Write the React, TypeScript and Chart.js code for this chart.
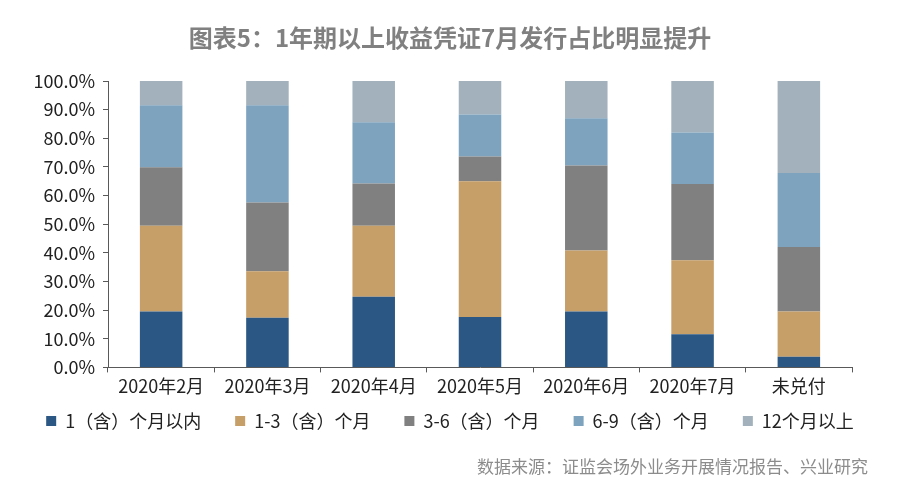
import React, { useEffect, useRef } from "react";
import { Chart, registerables } from "chart.js";

Chart.register(...registerables);

const TITLE = "图表5：1年期以上收益凭证7月发行占比明显提升";
const SOURCE = "数据来源：证监会场外业务开展情况报告、兴业研究";

const categories = ["2020年2月", "2020年3月", "2020年4月", "2020年5月", "2020年6月", "2020年7月", "未兑付"];

const seriesNames = ["1（含）个月以内", "1-3（含）个月", "3-6（含）个月", "6-9（含）个月", "12个月以上"];

const within1 = [19.5, 17.3, 24.7, 17.6, 19.5, 11.6, 3.7];
const m1to3 = [30.0, 16.3, 24.8, 47.4, 21.3, 25.8, 15.8];
const m3to6 = [20.4, 24.0, 14.7, 8.6, 29.7, 26.6, 22.5];
const m6to9 = [21.6, 33.9, 21.4, 14.7, 16.5, 18.0, 25.9];
const over12 = [8.5, 8.5, 14.4, 11.7, 13.0, 18.0, 32.1];

const yTicks = [0, 10, 20, 30, 40, 50, 60, 70, 80, 90, 100];

const colors = ["#2A5783", "#C59E68", "#808080", "#7EA3BE", "#A2B1BB"];

const FONT = '"Noto Sans CJK SC", "Noto Sans", sans-serif';
const LEGEND_PAD = 34;
const LEGEND_FONT = 18;
const LEGEND_CENTER_Y = 421;

export default function App() {
  const ref = useRef<HTMLCanvasElement | null>(null);

  useEffect(() => {
    if (!ref.current) return;
    const seriesValues = [within1, m1to3, m3to6, m6to9, over12];
    const sourcePlugin = {
      id: "sourceNote",
      afterDraw(chart: any) {
        const ctx = chart.ctx;
        ctx.save();
        ctx.font = `17px ${FONT}`;
        ctx.fillStyle = "#8c8c8c";
        ctx.textAlign = "right";
        ctx.textBaseline = "middle";
        ctx.fillText(SOURCE, 868, 467);
        ctx.restore();
      },
    };
    const legendShift = {
      id: "legendShift",
      afterLayout(chart: any) {
        const lg = chart.legend;
        if (!lg) return;
        const d = lg.top + LEGEND_PAD + LEGEND_FONT / 2 - LEGEND_CENTER_Y;
        lg.top -= d;
        lg.bottom -= d;
      },
    };
    const chart = new Chart(ref.current, {
      type: "bar",
      data: {
        labels: categories,
        datasets: seriesNames.map((name, i) => ({
          label: name,
          data: seriesValues[i],
          backgroundColor: colors[i],
          borderWidth: 0,
          barPercentage: 0.4,
          categoryPercentage: 1,
        })),
      },
      options: {
        responsive: false,
        animation: false,
        layout: { padding: { left: 0, right: 0, top: 0, bottom: 32 } },
        font: { family: FONT },
        plugins: {
          title: {
            display: true,
            text: TITLE,
            color: "#808080",
            font: { family: FONT, size: 24, weight: "bold" },
            padding: { top: 23.6, bottom: 28.6 },
          },
          legend: {
            display: true,
            position: "bottom",
            labels: {
              boxWidth: 10,
              boxHeight: 10,
              padding: LEGEND_PAD,
              color: "#222",
              font: { family: FONT, size: LEGEND_FONT },
            },
          },
          tooltip: { enabled: false },
        },
        scales: {
          x: {
            stacked: true,
            grid: {
              display: true,
              drawOnChartArea: false,
              drawTicks: true,
              tickLength: 5,
              color: "#595959",
              offset: true,
            },
            border: { display: true, color: "#595959", width: 1 },
            ticks: {
              color: "#222",
              font: { family: FONT, size: 18 },
              padding: 3,
              maxRotation: 0,
              autoSkip: false,
            },
          },
          y: {
            stacked: true,
            min: 0,
            max: 100,
            afterBuildTicks(s: any) {
              s.ticks = yTicks.map((v) => ({ value: v }));
            },
            grid: {
              display: true,
              drawOnChartArea: false,
              drawTicks: true,
              tickLength: 5,
              color: "#595959",
            },
            border: { display: true, color: "#595959", width: 1 },
            ticks: {
              color: "#222",
              font: { family: FONT, size: 18 },
              padding: 8,
              callback: (v: any) => Number(v).toFixed(1) + "%",
            },
            afterFit(s: any) {
              s.width = 108;
            },
          },
          yR: {
            type: "linear",
            position: "right",
            display: true,
            grid: { display: false, drawTicks: false },
            border: { display: false },
            ticks: { display: false },
            afterFit(s: any) {
              s.width = 48;
            },
          },
        },
      } as any,
      plugins: [legendShift, sourcePlugin],
    });
    return () => chart.destroy();
  }, []);

  return (
    <div style={{ position: "fixed", left: 0, top: 0, width: 900, height: 494, background: "#fff" }}>
      <canvas ref={ref} width={900} height={494} style={{ display: "block" }} />
    </div>
  );
}
